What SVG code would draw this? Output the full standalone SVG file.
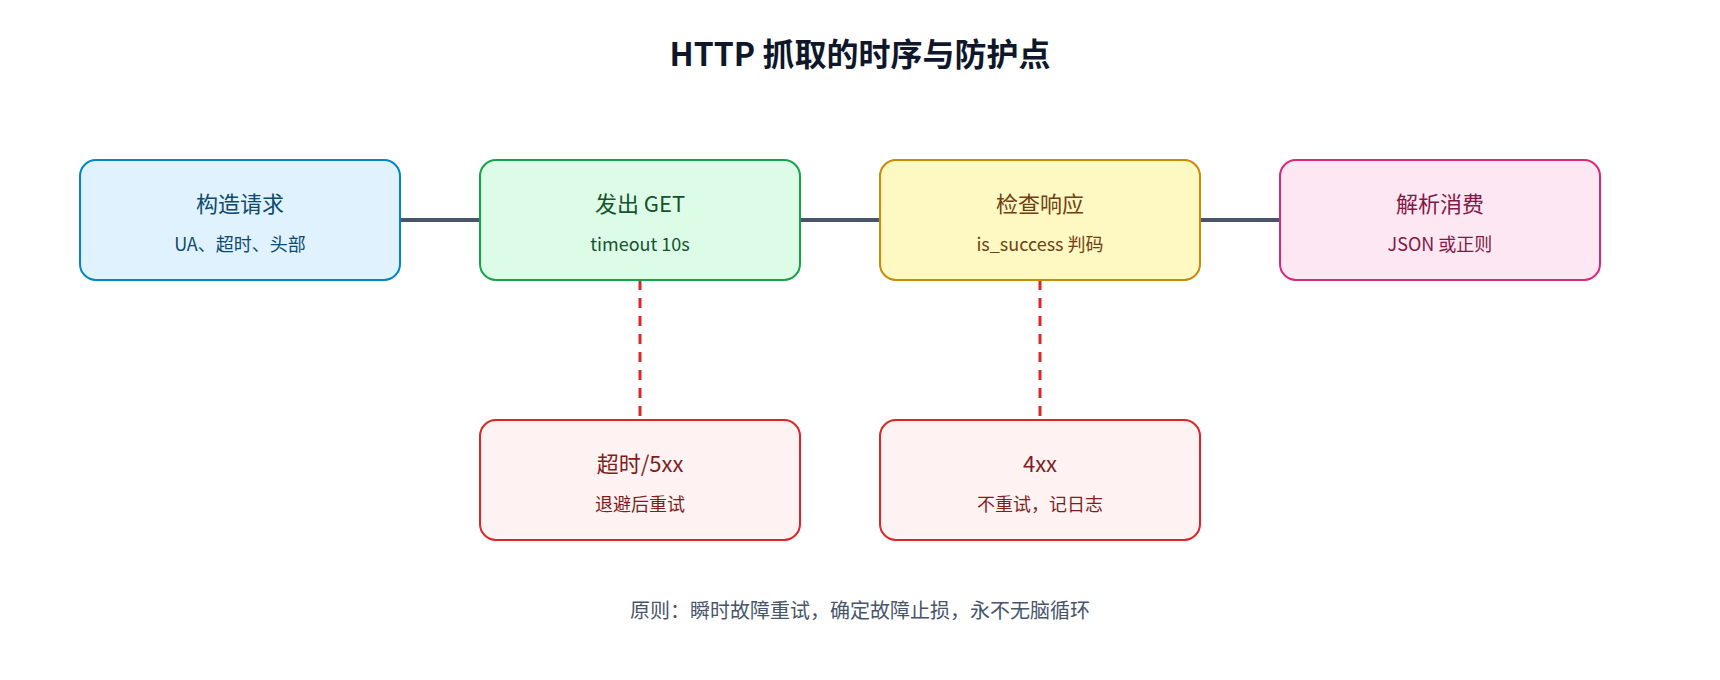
<svg xmlns="http://www.w3.org/2000/svg" width="1720" height="680" viewBox="0 0 1720 680">
<style>
text{font-family:"Noto Sans CJK SC","Noto Sans",sans-serif;text-anchor:middle}
.t{font-size:22px}.s{font-size:18px}
.solid{stroke:#475569;stroke-width:4;fill:none}
.dash{stroke:#dc2626;stroke-width:3;stroke-dasharray:10 8;fill:none}
</style>
<rect width="1720" height="680" fill="#fff"/>
<text x="860" y="66" font-size="32" font-weight="bold" fill="#0f172a">HTTP 抓取的时序与防护点</text>
<g id="connectors">
<line class="solid" x1="400" y1="220" x2="480" y2="220"/>
<line class="solid" x1="800" y1="220" x2="880" y2="220"/>
<line class="solid" x1="1200" y1="220" x2="1280" y2="220"/>
<line class="dash" x1="640" y1="280" x2="640" y2="420"/>
<line class="dash" x1="1040" y1="280" x2="1040" y2="420"/>
</g>
<g id="n1"><rect x="80" y="160" width="320" height="120" rx="16" fill="#e0f2fe" stroke="#0284c7" stroke-width="2"/><text class="t" x="240" y="212" fill="#0c4a6e">构造请求</text><text class="s" x="240" y="251" fill="#0c4a6e">UA、超时、头部</text></g>
<g id="n2"><rect x="480" y="160" width="320" height="120" rx="16" fill="#dcfce7" stroke="#16a34a" stroke-width="2"/><text class="t" x="640" y="212" fill="#14532d">发出 GET</text><text class="s" x="640" y="251" fill="#14532d">timeout 10s</text></g>
<g id="n3"><rect x="880" y="160" width="320" height="120" rx="16" fill="#fef9c3" stroke="#ca8a04" stroke-width="2"/><text class="t" x="1040" y="212" fill="#713f12">检查响应</text><text class="s" x="1040" y="251" fill="#713f12">is_success 判码</text></g>
<g id="n4"><rect x="1280" y="160" width="320" height="120" rx="16" fill="#fce7f3" stroke="#db2777" stroke-width="2"/><text class="t" x="1440" y="212" fill="#831843">解析消费</text><text class="s" x="1440" y="251" fill="#831843">JSON 或正则</text></g>
<g id="n5"><rect x="480" y="420" width="320" height="120" rx="16" fill="#fef2f2" stroke="#dc2626" stroke-width="2"/><text class="t" x="640" y="472" fill="#7f1d1d">超时/5xx</text><text class="s" x="640" y="511" fill="#7f1d1d">退避后重试</text></g>
<g id="n6"><rect x="880" y="420" width="320" height="120" rx="16" fill="#fef2f2" stroke="#dc2626" stroke-width="2"/><text class="t" x="1040" y="472" fill="#7f1d1d">4xx</text><text class="s" x="1040" y="511" fill="#7f1d1d">不重试，记日志</text></g>
<text x="860" y="618" font-size="20" fill="#475569">原则：瞬时故障重试，确定故障止损，永不无脑循环</text>
</svg>
